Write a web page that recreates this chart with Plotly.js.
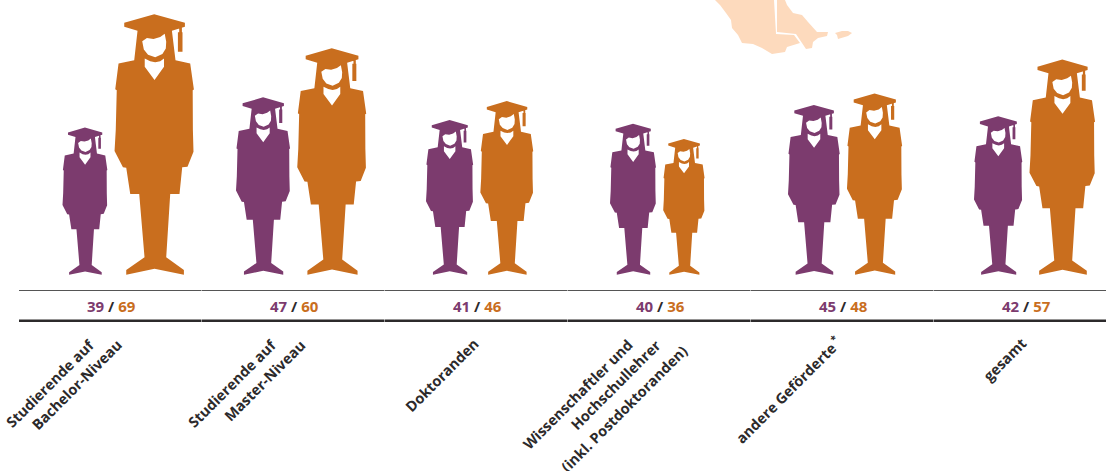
<!DOCTYPE html>
<html>
<head>
<meta charset="utf-8">
<script src="https://cdn.plot.ly/plotly-3.0.1.min.js"></script>
<style>html,body{margin:0;padding:0;background:#fff;overflow:hidden}</style>
</head>
<body>
<div id="chart" style="width:1106px;height:471px"></div>
<script>
// ---- data ----
const categories = [
  ["Studierende auf", "Bachelor-Niveau"],
  ["Studierende auf", "Master-Niveau"],
  ["Doktoranden"],
  ["Wissenschaftler und", "Hochschullehrer", "(inkl. Postdoktoranden)"],
  ["andere Geförderte<sup> *</sup>"],
  ["gesamt"]
];
const frauen = [39, 47, 41, 40, 45, 42];
const maenner = [69, 60, 46, 36, 48, 57];

// ---- style / layout constants ----
const PURPLE = "#7c3b6e", ORANGE = "#c96e1e", INK = "#2c2a2b", MAP = "#fddabd";
const W = 1106, H = 471, BASE_Y = 275, PX_PER_VALUE = 3.78;
const GROUP_START = 19, GROUP_W = 183, PAIR_GAP = 7.2;
const pairLeft = [62.5, 236, 426, 610, 788, 974];
// top-right corner of each rotated label line, page pixels
const labelEnds = [[[101,333],[129,333]],[[283,333],[312,333]],[[485,332]],[[639,333],[668,333],[694,338]],[[849,329]],[[1033,331]]];

// pictogram glyph: x from centre, y from foot, 261 units tall
const GLYPH_H = 261, GLYPH_HALF_W = 39.7;
const glyphBody = [[0,261],[30.7,252.3],[30.7,248.3],[17.7,244.3],[21.3,215],[36,211.7],[39.7,185.7],[38.5,185],[38.7,145],[39.3,123.3],[33.3,108.3],[28,107.7],[25.3,81],[16,81],[12,17.7],[29.7,5],[29.7,0.3],[0.3,6.3],[-28,0.3],[-28,5],[-9.7,17.7],[-15,81],[-24,81],[-28,107.3],[-31.3,107.7],[-39.7,124],[-38.5,145],[-37.5,185],[-39,186],[-35.7,211.7],[-20,215],[-16.7,244.3],[-30,248.3],[-30,252.3]];
const glyphTassel = [[25,247.5],[27.7,247.5],[27.7,243],[28.3,243],[28.3,223.3],[23.7,223.3],[23.7,243],[25,243]];
const glyphFace = [[-12,233.8],[-7.3,237.2],[-0.7,236.2],[6,238.2],[10.5,241.5],[12,233.3],[11.6,226.7],[8.2,221.2],[1,217.8],[-6.2,220.5],[-10.4,225.7]];
const glyphCollar = [[-9.5,216.7],[-4,214],[1,213],[6,214],[9.8,216.7],[9.8,208.3],[0.3,195.2],[-9.5,208.3]];

// background map fragment, page pixels
const mapPieces = [
  [[715,0],[720,5],[726,13],[731,20],[732,28],[738,35],[742,43],[753,44],[762,48],[772,54],[785,52],[787,47],[800,43],[794,35],[776,34],[774,0]],
  [[777,0],[777,32],[796,34],[802,43],[806,49],[812,48],[813,42],[818,38],[827,36],[828,32],[817,32],[808,22],[802,15],[793,13],[787,5],[785,0]],
  [[835,33],[842,31],[848,31],[852,33],[848,36],[838,39],[837,35]]
];

// ---- helpers ----
const widthUnit = v => v * PX_PER_VALUE / GLYPH_H;
function glyphTrace(cx, value, colour, name) {
  const k = widthUnit(value);
  const parts = [glyphBody, glyphTassel, glyphFace.slice().reverse(), glyphCollar.slice().reverse()];
  const x = [], y = [];
  parts.forEach((p, i) => {
    if (i) { x.push(null); y.push(null); }
    p.concat([p[0]]).forEach(q => { x.push(cx + q[0] * k); y.push(q[1] / GLYPH_H * value); });
  });
  return {type:"scatter", mode:"lines", x, y, fill:"toself", fillcolor:colour,
          line:{width:0, color:colour}, hoverinfo:"skip", showlegend:false, name};
}
const yOf = py => (BASE_Y - py) / PX_PER_VALUE;

const traces = [];
const annotations = [];
const shapes = [];

mapPieces.forEach(piece => {
  const d = piece.map((p,i) => (i ? "L" : "M") + (p[0]/W) + " " + (1 - p[1]/H)).join(" ") + " Z";
  shapes.push({type:"path", xref:"paper", yref:"paper", path:d, fillcolor:MAP, line:{width:0}, layer:"below"});
});

categories.forEach((lines, i) => {
  const a = frauen[i], b = maenner[i];
  const ca = pairLeft[i] + GLYPH_HALF_W * widthUnit(a);
  const cb = ca + GLYPH_HALF_W * widthUnit(a) + PAIR_GAP + GLYPH_HALF_W * widthUnit(b);
  traces.push(glyphTrace(ca, a, PURPLE, "a" + i));
  traces.push(glyphTrace(cb, b, ORANGE, "b" + i));

  const x0 = GROUP_START + i * GROUP_W;
  shapes.push({type:"line", xref:"x", yref:"y", x0:x0, x1:x0 + GROUP_W - 0.5, y0:yOf(290.5), y1:yOf(290.5), line:{color:"#555", width:1}});
  shapes.push({type:"line", xref:"x", yref:"y", x0:x0, x1:x0 + GROUP_W - 0.5, y0:yOf(320.8), y1:yOf(320.8), line:{color:INK, width:2.6}});

  annotations.push({
    x: x0 + GROUP_W / 2 + 0.5, y: yOf(306), xref:"x", yref:"y", showarrow:false,
    text: `<span style="color:${PURPLE}">${a}</span><span style="color:${INK}"> / </span><span style="color:${ORANGE}">${b}</span>`,
    font:{family:"Open Sans", size:15, weight:700, color:INK}
  });
  lines.forEach((line, j) => {
    annotations.push({
      x: labelEnds[i][j][0], y: yOf(labelEnds[i][j][1]), xref:"x", yref:"y", showarrow:false,
      xanchor:"right", yanchor:"top", text: line, textangle:-45,
      font:{family:"Open Sans", size:14.5, weight:700, color:INK}
    });
  });
});

Plotly.newPlot("chart", traces, {
  width:W, height:H, margin:{l:0,r:0,t:0,b:0,pad:0},
  paper_bgcolor:"#fff", plot_bgcolor:"rgba(0,0,0,0)", showlegend:false,
  xaxis:{range:[0,W], visible:false, fixedrange:true},
  yaxis:{range:[yOf(H), yOf(0)], visible:false, fixedrange:true},
  shapes, annotations
}, {displayModeBar:false, staticPlot:true});
</script>
</body>
</html>
